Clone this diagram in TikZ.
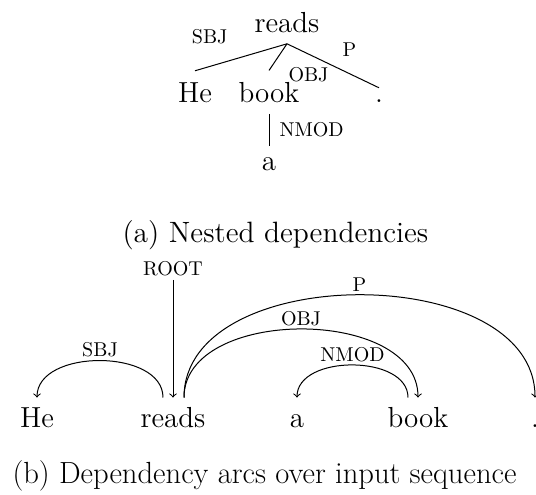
\documentclass[tikz,border=0pt]{standalone}

\tikzset{
  word/.style={font=\fontsize{14.5}{17}\selectfont, anchor=base, inner sep=5.5pt},
  tok/.style={word, text height=10pt, inner sep=4.5pt},
  lbl/.style={font=\fontsize{10}{12}\selectfont, inner sep=1.5pt},
  caption/.style={font=\fontsize{14.7}{18}\selectfont, anchor=base west, inner sep=0pt},
  deparc/.style={->, out=90, in=90},
}

\begin{document}
\begin{tikzpicture}[x=0.5pt, y=0.5pt, line width=0.5pt]
\clip (0,0) rectangle (536,-494);
% (a) nested dependencies
\node[word] (reads) at (287,-32) {reads}
  [grow=down, level distance=40pt, sibling distance=46pt,
   edge from parent path={(\tikzparentnode.south) -- (\tikzchildnode.north)}]
  child {node[word] (he) {He}
    edge from parent node[lbl, above left=5pt] {SBJ}}
  child[xshift=-9pt] {node[word] (book) {book}
    child[level distance=39pt] {node[word] (a) {a}
      edge from parent node[lbl, right=3.5pt] {NMOD}}
    edge from parent node[lbl, below right=3.5pt] {OBJ}}
  child {node[word] (dot) {.}
    edge from parent node[lbl, above right=3pt] {P}};
\node[caption] (capa) at (122,-242) {(a) Nested dependencies};

% (b) arcs over the input sequence
\node[tok] (he2) at (37,-427) {He};
\node[tok] (reads2) at (173,-427) {reads};
\node[tok] (a2) at (297,-427) {a};
\node[tok] (book2) at (418,-427) {book};
\node[tok] (dot2) at (535,-427) {.};
\node[lbl] (root) at (173,-269) {ROOT};
\draw[->] (root) -- (reads2.north);
\draw[deparc] ([xshift=-5pt]reads2.north) to node[lbl, midway, above] {SBJ} (he2.north);
\draw[deparc] ([xshift=5.5pt]reads2.north) to node[lbl, midway, above] {OBJ} (book2.north);
\draw[deparc] ([xshift=5.5pt]reads2.north) to node[lbl, midway, above] {P} (dot2.north);
\draw[deparc] ([xshift=-5pt]book2.north) to node[lbl, midway, above] {NMOD} (a2.north);
\node[caption, font=\fontsize{15.3}{18}\selectfont] (capb) at (12,-483) {(b) Dependency arcs over input sequence};
\end{tikzpicture}
\end{document}
